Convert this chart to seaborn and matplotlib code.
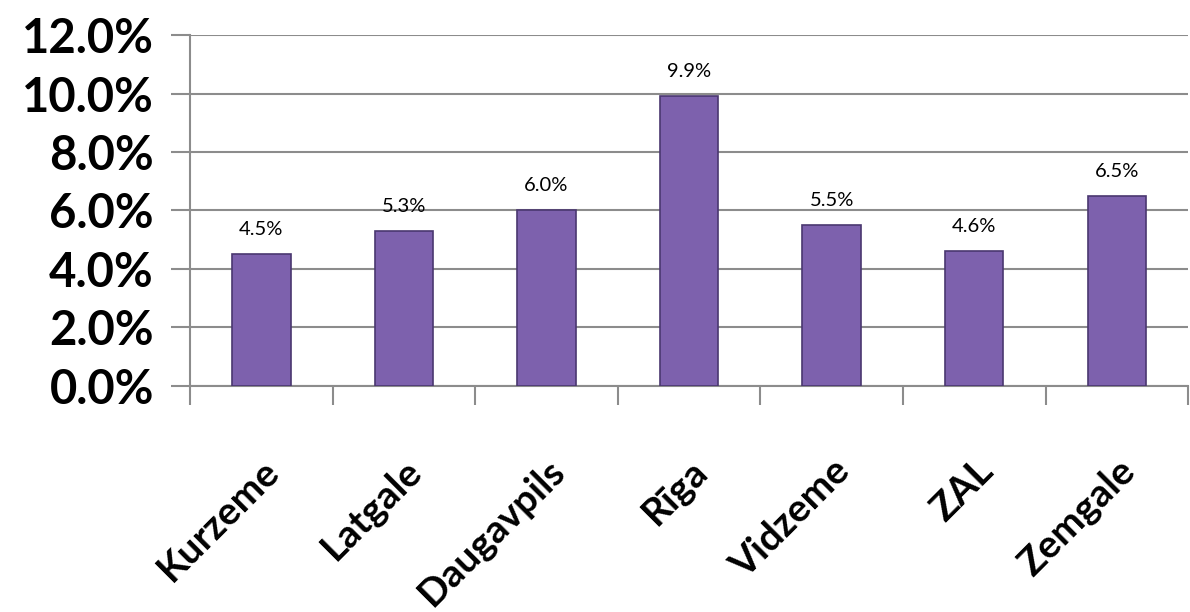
import matplotlib.pyplot as plt
import matplotlib.ticker as ticker
import seaborn as sns
import pandas as pd
import numpy as np

regions = ['Kurzeme', 'Latgale', 'Daugavpils', 'Rīga', 'Vidzeme', 'ZAL', 'Zemgale']
share = [4.5, 5.3, 6.0, 9.9, 5.5, 4.6, 6.5]
y_ticks = [0, 2, 4, 6, 8, 10, 12]

df = pd.DataFrame({'Region': regions, 'Share': share})

sns.set_theme(style="white")
plt.rcParams['font.family'] = ['Lato', 'DejaVu Sans']

fig = plt.figure(figsize=(11.9, 6.12), dpi=100)
ax = fig.add_axes([0.1597, 0.3693, 0.8387, 0.5735])

sns.barplot(data=df, x='Region', y='Share', ax=ax, color='#7D61AD',
            saturation=1, width=0.41, edgecolor='#4A3770', linewidth=1.2,
            zorder=3)

ax.set_xlim(-0.5, 6.5)
ax.set_ylim(0, 12)

# value labels
for bar, v in zip(ax.patches, share):
    ax.text(bar.get_x() + bar.get_width() / 2, bar.get_height() + 0.55,
            f'{v:.1f}%', ha='center', va='bottom', fontsize=14.5, color='black')

# grid + axis styling (Excel-like)
ax.set_yticks(y_ticks)
ax.yaxis.set_major_formatter(ticker.FuncFormatter(lambda v, p: f'{v:.1f}%'))
ax.grid(axis='y', color='#8C8C8C', linewidth=1.5, zorder=0)
for s in ['top', 'right']:
    ax.spines[s].set_visible(False)
for s in ['left', 'bottom']:
    ax.spines[s].set_color('#8C8C8C')
    ax.spines[s].set_linewidth(1.5)

ax.tick_params(axis='y', which='major', left=True, length=14, width=1.5,
               color='#8C8C8C', direction='out', labelsize=34, pad=12,
               labelcolor='black')
for lbl in ax.get_yticklabels():
    lbl.set_fontweight('bold')

ax.xaxis.set_minor_locator(ticker.FixedLocator(np.arange(-0.5, 7, 1)))
ax.tick_params(axis='x', which='minor', bottom=True, length=14, width=1.5,
               color='#8C8C8C', direction='out')
ax.tick_params(axis='x', which='major', length=0, labelsize=28, pad=48,
               labelcolor='black')
ax.set_xticks(range(len(regions)))
ax.set_xticklabels(regions, rotation=45, ha='right', fontweight='bold')
for lbl in ax.get_xticklabels():
    lbl.set_rotation_mode('anchor')

ax.set_xlabel('')
ax.set_ylabel('')

fig.savefig('out.png', dpi=100)
